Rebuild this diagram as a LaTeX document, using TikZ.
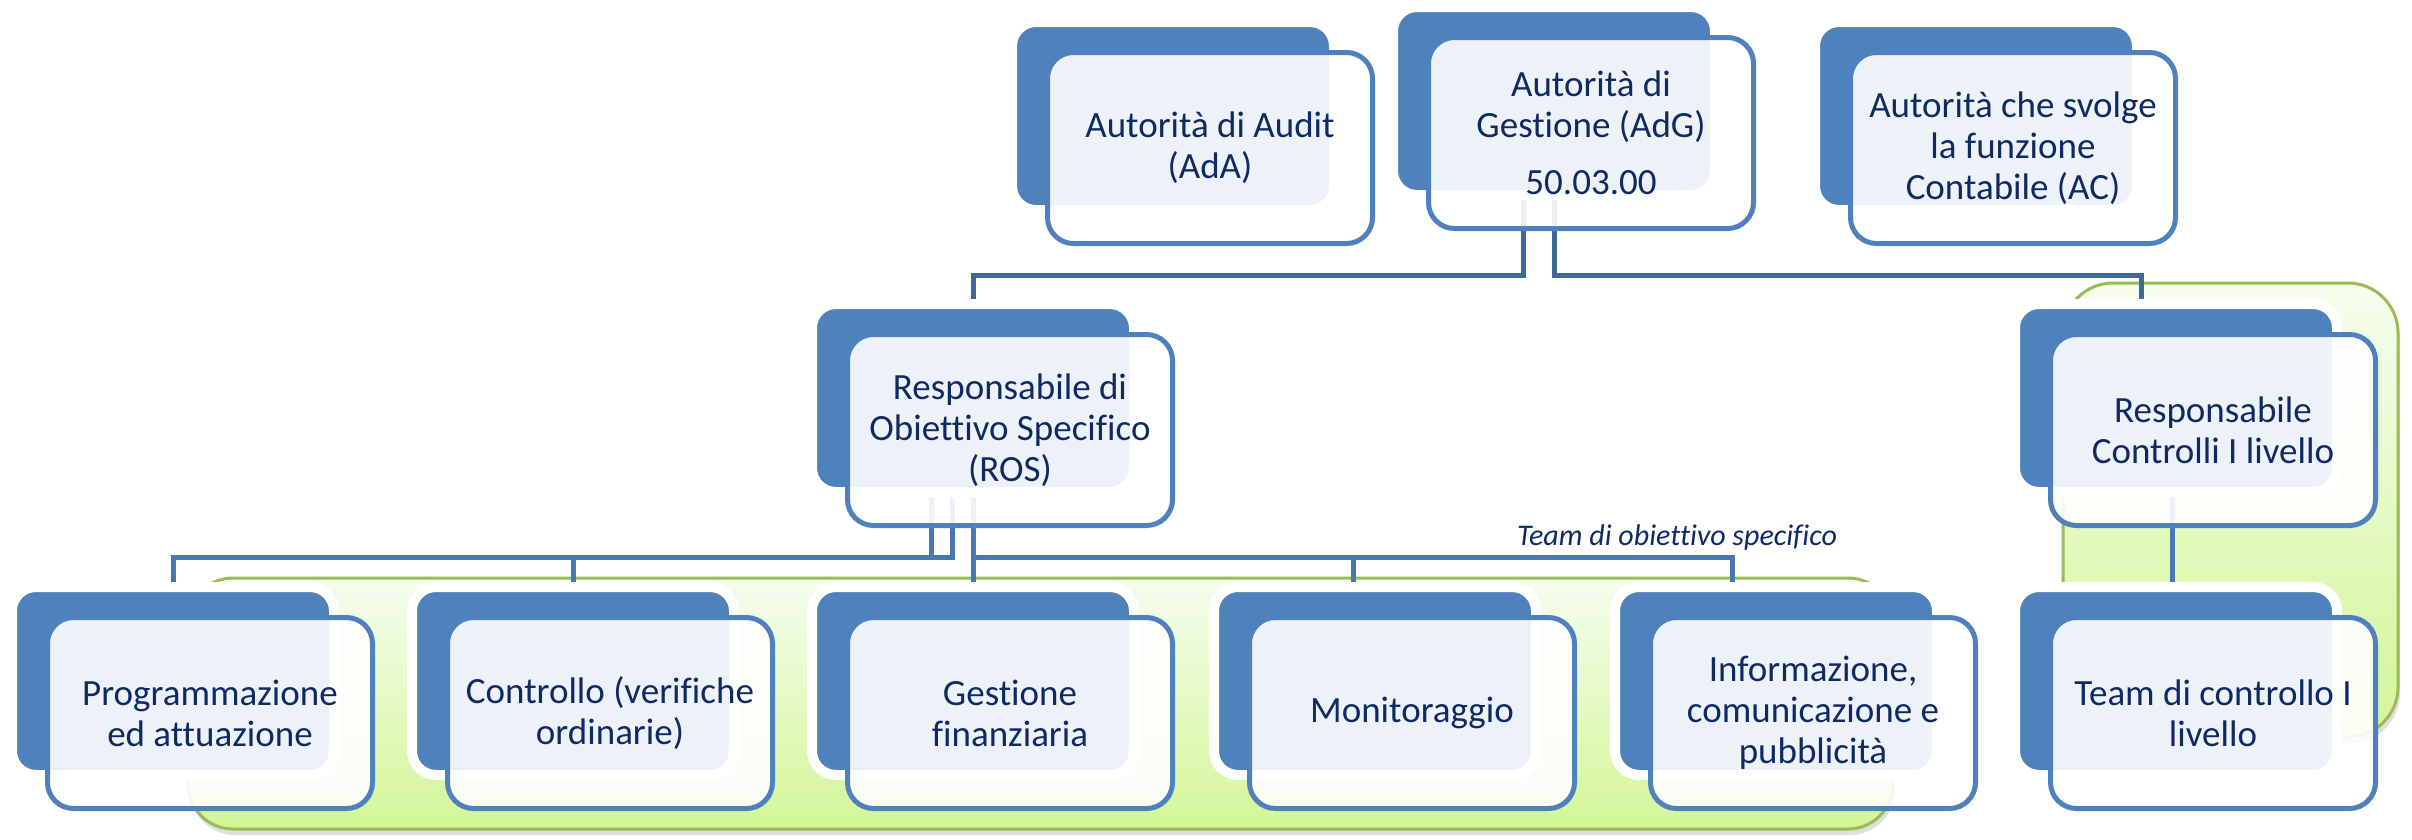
\documentclass[tikz,border=0pt]{standalone}
\usepackage{fontspec}
\setmainfont{Carlito}[Ligatures=NoCommon]
\usetikzlibrary{shadows,calc}
\definecolor{acc}{HTML}{4F81BD}
\definecolor{connTop}{HTML}{3F6898}
\definecolor{connBot}{HTML}{4A77B0}
\definecolor{txt}{HTML}{0F2A63}
\definecolor{grn}{HTML}{9BBB59}
\definecolor{grnTop}{HTML}{F6FDEE}
\definecolor{grnBot}{HTML}{D3F697}
\pgfdeclarelayer{panels}
\pgfdeclarelayer{links}
\pgfsetlayers{panels,links,main}
\newcommand\orgbox[4]{%
  \node[backbox] (#1b) at (#2+161,#3+94) {};
  \node[frontbox] (#1) at (#2+198,#3+126) {#4};}
\begin{document}
\begin{tikzpicture}[x=1pt,y=-1pt,
 backbox/.style={rectangle, rounded corners=24pt, fill=acc, draw=white, line width=10pt, minimum width=322pt, minimum height=188pt, inner sep=0pt},
 frontbox/.style={rectangle, rounded corners=26pt, fill=white, fill opacity=0.9, text opacity=1, draw=acc, line width=5pt, minimum width=325pt, minimum height=191pt, inner sep=0pt, align=center, text=txt, font=\fontsize{37}{41}\selectfont},
 panel/.style={rectangle, rounded corners=45pt, draw=grn, line width=3pt, top color=grnTop, bottom color=grnBot, inner sep=0pt, drop shadow={shadow xshift=2pt, shadow yshift=-6pt, opacity=0.25}},
 conntop/.style={draw=connTop, line width=5pt},
 connbot/.style={draw=connBot, line width=5pt},
 lbl/.style={font=\itshape\fontsize{30}{36}\selectfont, text=txt, anchor=base, inner sep=0pt}
]
\begin{pgfonlayer}{panels}
\fill[white] (0,0) rectangle (2412,839);
\end{pgfonlayer}
\useasboundingbox (0,0) rectangle (2412,839);

\orgbox{AdA}{1012}{22}{Autorità di Audit\\(AdA)}
\orgbox{AdG}{1393}{7}{Autorità di\\Gestione (AdG)\\[16pt]50.03.00}
\orgbox{AC}{1815}{22}{Autorità che svolge\\la funzione\\Contabile (AC)}
\orgbox{ROS}{812}{304}{Responsabile di\\Obiettivo Specifico\\(ROS)}
\orgbox{RCI}{2015}{304}{Responsabile\\Controlli I livello}
\orgbox{Prog}{12}{587}{Programmazione\\ed attuazione}
\orgbox{Cont}{412}{587}{Controllo (verifiche\\ordinarie)}
\orgbox{Gest}{812}{587}{Gestione\\finanziaria}
\orgbox{Mon}{1214}{587}{Monitoraggio}
\orgbox{Inf}{1615}{587}{Informazione,\\comunicazione e\\pubblicità}
\orgbox{Team}{2015}{587}{Team di controllo I\\livello}

\node[lbl] (teamlbl) at (1677,545) {Team di obiettivo specifico};

\begin{pgfonlayer}{panels}
\node[panel, minimum width=1705pt, minimum height=251pt] (teampanel) at (1040.5,703.5) {};
\node[panel, minimum width=335pt, minimum height=454pt, rounded corners=50pt] (ctrlpanel) at (2230.5,510) {};
\end{pgfonlayer}

\begin{pgfonlayer}{links}
\draw[conntop] ([xshift=-31pt]AdGb.south) -- ++(0,75) -| (ROSb.north);
\draw[conntop] (AdGb.south) -- ++(0,75) -| ([xshift=-35pt]RCIb.north);
\draw[connbot] ([xshift=-42pt]ROSb.south) -- ++(0,60) -| (Progb.north);
\draw[connbot] ([xshift=-21pt]ROSb.south) -- ++(0,60) -| (Contb.north);
\draw[connbot] (ROSb.south) -- (Gestb.north);
\draw[connbot] (ROSb.south) -- ++(0,60) -| ([xshift=-22pt]Monb.north);
\draw[connbot] (ROSb.south) -- ++(0,60) -| ([xshift=-44pt]Infb.north);
\draw[connbot] ([xshift=-4pt]RCIb.south) -- ([xshift=-4pt]Teamb.north);
\end{pgfonlayer}
\end{tikzpicture}
\end{document}
